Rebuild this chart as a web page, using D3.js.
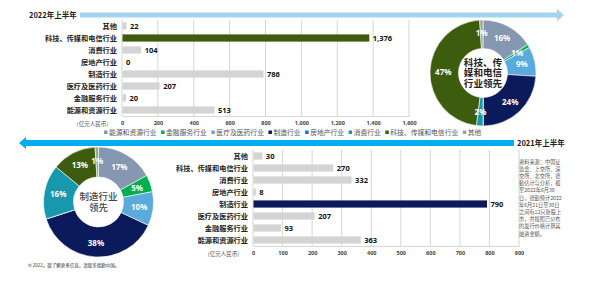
<!DOCTYPE html>
<html lang="zh">
<head>
<meta charset="UTF-8">
<title>IPO</title>
<style>
    body{ margin:0; background:#fff; }
    text{ font-family:"Noto Sans CJK SC","Noto Sans",sans-serif; }
</style>
<script src="https://d3js.org/d3.v7.min.js"></script>
</head>
<body>
<div class="canvas"></div>
<script>
// legend order; bars are drawn in reverse (其他 on top)
const categories = ['能源和资源行业','金融服务行业','医疗及医药行业','制造行业','房地产行业','消费行业','科技、传媒和电信行业','其他'];
const colors = ['#8597b1','#00b050','#5aaadd','#0b1a5b','#1a6cf5','#1898ad','#3d5c0d','#95a890'];

const values2022 = [513, 20, 207, 786, 0, 104, 1376, 22];
const pct2022 = [16, 1, 9, 24, 0, 2, 47, 1];
const ticks2022 = [0, 200, 400, 600, 800, 1000, 1200, 1400, 1600];

const values2021 = [363, 93, 207, 790, 8, 332, 270, 30];
const pct2021 = [17, 5, 10, 38, 0, 16, 13, 1];
const ticks2021 = [0, 100, 200, 300, 400, 500, 600, 700, 800, 900];

const sourceLines = ['资料来源：中国证','监会、上交所、深','交所、北交所，德','勤估计与分析，截','至2022年6月30','日，德勤预计2022','年6月21日至30日','之间有12只新股上','市，并按照已公布','的发行价格计算其','融资金额。'];

const svg = d3.select('.canvas').append('svg')
    .attr('width', 590).attr('height', 288);

// arrows
svg.append('path')
    .attr('d', 'M80,12.5 L557,12.5 L557,9 L564,15 L557,21 L557,17.5 L80,17.5 Z')
    .attr('fill', '#a3d5f1');
svg.append('path')
    .attr('d', 'M514,140 L26,140 L26,137 L19,143 L26,149 L26,146 L514,146 Z')
    .attr('fill', '#00aeef');

svg.append('text').attr('x', 29).attr('y', 18)
    .attr('font-size', 7.5).attr('font-weight', 'bold').attr('fill', '#222')
    .text('2022年上半年');
svg.append('text').attr('x', 517).attr('y', 146)
    .attr('font-size', 7.5).attr('font-weight', 'bold').attr('fill', '#222')
    .text('2021年上半年');

function drawBars(vals, ticks, hi, x0, x1, y0, y1){
    const g = svg.append('g');
    const x = d3.scaleLinear().domain([0, ticks[ticks.length-1]]).range([x0, x1]);
    const order = categories.map((c,i)=>i).reverse();
    const y = d3.scaleBand().domain(order).range([y0, y1]).paddingInner(0.4).paddingOuter(0.2);

    g.selectAll('line.grid').data(ticks).enter().append('line')
        .attr('x1', d=>x(d)).attr('x2', d=>x(d))
        .attr('y1', y0).attr('y2', y1)
        .attr('stroke', '#d6d6d6').attr('stroke-width', 1);

    const ax = g.append('g').attr('transform', `translate(0,${y1})`)
        .call(d3.axisBottom(x).tickValues(ticks).tickSize(0).tickPadding(5).tickFormat(d3.format(',')));
    ax.select('.domain').attr('stroke', '#d6d6d6');
    ax.selectAll('text').attr('font-size', 5.5).attr('font-weight', 'bold').attr('fill', '#444')
        .style('font-family', '"Noto Sans","Noto Sans CJK SC",sans-serif');

    g.append('text').attr('x', x0 - 14).attr('y', y1 + 10)
        .attr('text-anchor', 'end').attr('font-size', 5.5).attr('fill', '#555')
        .text('(亿元人民币)');

    g.selectAll('rect').data(order).enter().append('rect')
        .attr('x', x(0) + 0.5).attr('y', i=>y(i))
        .attr('width', i=>x(vals[i]) - x(0))
        .attr('height', y.bandwidth())
        .attr('fill', i=> i === hi ? colors[i] : '#d4d4d4');

    g.selectAll('text.val').data(order).enter().append('text')
        .attr('class', 'val')
        .attr('x', i=>x(vals[i]) + 4).attr('y', i=>y(i) + y.bandwidth()/2)
        .attr('dy', '0.35em').attr('font-size', 7.5).attr('font-weight', 'bold').attr('fill', '#111')
        .style('font-family', '"Noto Sans","Noto Sans CJK SC",sans-serif')
        .text(i=>d3.format(',')(vals[i]));

    g.selectAll('text.cat').data(order).enter().append('text')
        .attr('class', 'cat')
        .attr('x', x0 - 5).attr('y', i=>y(i) + y.bandwidth()/2)
        .attr('dy', '0.35em').attr('text-anchor', 'end')
        .attr('font-size', 7.2).attr('font-weight', 'bold').attr('fill', '#222')
        .text(i=>categories[i]);
}

drawBars(values2022, ticks2022, 6, 122, 409, 20, 116);
drawBars(values2021, ticks2021, 3, 253, 519, 150, 246);

function drawDonut(pcts, cx, cy, rOut, rIn, lines, bold){
    const g = svg.append('g').attr('transform', `translate(${cx},${cy})`);
    const pie = d3.pie().sort(null).value(d=>d);
    const arc = d3.arc().innerRadius(rIn).outerRadius(rOut);
    const labelArc = d3.arc().innerRadius((rIn+rOut)/2 + 1).outerRadius((rIn+rOut)/2 + 1);
    const arcs = pie(pcts);
    g.selectAll('path').data(arcs).enter().append('path')
        .attr('d', arc).attr('fill', (d,i)=>colors[i])
        .attr('stroke', '#fff').attr('stroke-width', 0.6);
    g.selectAll('text.pct').data(arcs.filter(d=>d.data > 0)).enter().append('text')
        .attr('class', 'pct')
        .attr('transform', d=>`translate(${labelArc.centroid(d)})`)
        .attr('text-anchor', 'middle').attr('dy', '0.35em')
        .attr('font-size', 8).attr('font-weight', 'bold').attr('fill', '#fff')
        .style('font-family', '"Noto Sans","Noto Sans CJK SC",sans-serif')
        .text(d=>d.data + '%');
    const lh = bold ? 10.6 : 11;
    const fs = bold ? 9.6 : 9.5;
    g.selectAll('text.ctr').data(lines).enter().append('text')
        .attr('class', 'ctr')
        .attr('x', 0).attr('y', (d,i)=>(i - (lines.length-1)/2) * lh)
        .attr('dy', '0.35em').attr('text-anchor', 'middle')
        .attr('font-size', fs).attr('font-weight', bold ? 'bold' : 500)
        .attr('fill', bold ? '#222' : '#444')
        .text(d=>d);
}

drawDonut(pct2022, 483, 73, 53, 24.5, ['科技、传','媒和电信','行业领先'], true);
drawDonut(pct2021, 98.5, 202, 55, 25, ['制造行业','领先'], false);

// legend
const leg = svg.append('g').attr('transform', 'translate(104,134)');
let lx = 0;
categories.forEach((c,i)=>{
    const it = leg.append('g').attr('transform', `translate(${lx},0)`);
    it.append('rect').attr('x', 0).attr('y', -3.5).attr('width', 3.5).attr('height', 3.5).attr('fill', colors[i]);
    const t = it.append('text').attr('x', 5).attr('y', 0).attr('dy', '0.1em')
        .attr('font-size', 6.8).attr('fill', '#555').text(c);
    lx += 5 + t.node().getComputedTextLength() + 4.5;
});

// source note
svg.append('g').selectAll('text').data(sourceLines).enter().append('text')
    .attr('x', 519).attr('y', (d,i)=>163.5 + i*7.2)
    .attr('font-size', 5.2).attr('fill', '#555')
    .text(d=>d);

svg.append('text').attr('x', 28).attr('y', 267)
    .attr('font-size', 4.5).attr('fill', '#333')
    .text('© 2022。欲了解更多信息，请联系德勤中国。');
</script>
</body>
</html>
